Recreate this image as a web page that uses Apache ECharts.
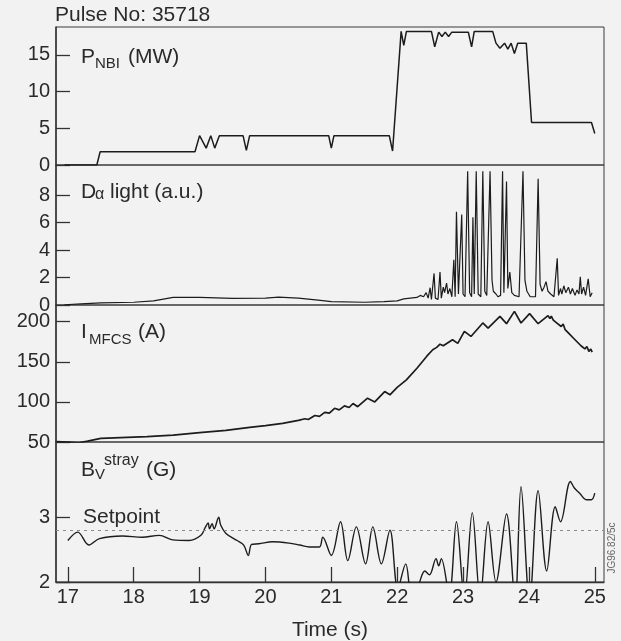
<!DOCTYPE html>
<html><head><meta charset="utf-8">
<script src="https://cdn.jsdelivr.net/npm/echarts@6/dist/echarts.min.js"></script>
<style>html,body{margin:0;padding:0;background:#f2f2f2;}#c{width:621px;height:641px;}</style>
</head><body><div id="c"></div>
<script>
const pulseLabel = 'Pulse No: 35718';
const timeTicks = [17, 18, 19, 20, 21, 22, 23, 24, 25];
const pnbiTicks = [0, 5, 10, 15];
const dalphaTicks = [0, 2, 4, 6, 8];
const imfcsTicks = [50, 100, 150, 200];
const bvTicks = [2, 3];
const setpoint = 2.8;

// [time (s), P_NBI (MW)]
const pnbi = [[16.95,0],[17.44,0],[17.49,1.8],[18.93,1.8],[19.0,4.0],[19.1,2.3],[19.17,4.0],[19.23,2.3],[19.3,4.0],
  [19.66,4.0],[19.71,2.0],[19.76,4.0],[20.96,4.0],[21.0,2.3],[21.04,4.0],[21.88,4.0],[21.93,1.9],[22.06,18.2],
  [22.1,16.3],[22.14,18.2],[22.52,18.2],[22.57,16.1],[22.63,18.1],[22.68,17.5],[22.73,18.1],[22.78,17.5],[22.83,18.1],
  [23.08,18.1],[23.13,16.1],[23.17,18.2],[23.45,18.2],[23.5,16.6],[23.56,15.9],[23.63,16.6],[23.68,15.8],[23.73,16.6],
  [23.78,15.2],[23.83,16.6],[23.96,16.6],[24.04,5.8],[24.95,5.8],[25.0,4.3]];

// [time (s), D-alpha light (a.u.)]
const dalpha = [[16.95,0.02],[17.2,0.08],[17.5,0.15],[18.0,0.2],[18.3,0.3],[18.6,0.55],[19.0,0.55],[19.5,0.48],
  [20.0,0.5],[20.2,0.58],[20.5,0.5],[20.8,0.35],[21.0,0.25],[21.5,0.2],[21.8,0.25],[22.0,0.3],[22.1,0.45],[22.2,0.5],
  [22.3,0.55],[22.35,0.7],[22.4,0.6],[22.44,0.9],[22.47,0.5],[22.5,1.26],[22.52,0.4],[22.55,0.5],[22.56,2.3],[22.58,0.5],
  [22.62,0.4],[22.65,2.4],[22.67,0.5],[22.7,1.3],[22.72,0.9],[22.75,1.6],[22.77,0.8],[22.8,1.2],[22.83,0.6],[22.86,3.3],
  [22.88,0.6],[22.9,6.8],[22.93,0.8],[22.98,6.6],[23.0,0.8],[23.03,0.6],[23.07,9.75],[23.1,0.9],[23.13,0.6],[23.15,6.4],
  [23.17,0.8],[23.2,9.75],[23.23,0.8],[23.27,0.6],[23.3,9.75],[23.33,1.0],[23.36,0.7],[23.41,9.75],[23.44,1.8],[23.46,1.0],
  [23.5,0.8],[23.53,0.6],[23.57,0.7],[23.6,9.75],[23.62,0.9],[23.66,9.0],[23.68,1.2],[23.71,2.4],[23.74,0.9],[23.78,0.7],
  [23.85,0.6],[23.91,9.75],[23.94,1.8],[23.97,1.0],[24.02,0.6],[24.1,0.6],[24.14,9.2],[24.17,1.5],[24.2,1.0],[24.23,1.3],
  [24.26,1.7],[24.29,1.0],[24.33,0.8],[24.38,0.6],[24.43,3.4],[24.45,0.7],[24.48,1.2],[24.5,0.8],[24.53,1.4],[24.56,0.9],
  [24.6,1.3],[24.63,0.8],[24.66,1.2],[24.7,0.7],[24.73,1.1],[24.76,0.8],[24.78,2.06],[24.8,0.8],[24.83,1.3],[24.86,0.7],
  [24.9,1.9],[24.93,0.6],[24.96,0.9]];

// [time (s), I_MFCS (A)]
const imfcs = [[16.83,50.4],[17.0,50],[17.15,48.8],[17.3,51],[17.5,54.6],[17.8,55.5],[18.2,56.6],[18.6,58.5],[19.0,61.6],
  [19.4,64.5],[19.76,68.3],[20.0,70.5],[20.26,73.3],[20.5,77],[20.6,79],[20.65,78],[20.75,83],[20.82,82],[20.9,87],
  [20.97,86],[21.05,92],[21.12,90],[21.2,95],[21.27,93],[21.33,98],[21.4,94],[21.55,104.6],[21.66,100],[21.81,112.9],
  [21.89,108.8],[22.0,118],[22.14,127.5],[22.3,142],[22.45,157],[22.54,165],[22.6,168],[22.65,172],[22.7,170],
  [22.84,177.5],[22.92,173],[23.02,187.9],[23.12,181.6],[23.3,198.4],[23.38,192],[23.56,206.6],[23.66,197.5],
  [23.78,212.9],[23.88,198.4],[24.01,210],[24.14,197.5],[24.29,207.5],[24.32,204],[24.34,207],[24.37,202],[24.4,204],
  [24.43,198],[24.46,200],[24.49,194],[24.52,197],[24.55,190],[24.58,192],[24.61,185],[24.64,187],[24.67,180],
  [24.7,182],[24.73,175],[24.76,177],[24.79,170],[24.82,172],[24.85,166],[24.88,169],[24.91,163],[24.94,166],[24.96,162]];

// [time (s), B_V stray (G)]
const bvstray = [[17.0,2.64],[17.15,2.77],[17.32,2.57],[17.48,2.67],[17.83,2.71],[18.13,2.69],[18.39,2.72],[18.59,2.65],
  [18.84,2.64],[19.02,2.72],[19.09,2.85],[19.13,2.91],[19.15,2.82],[19.19,2.9],[19.22,2.82],[19.29,3.0],[19.32,2.88],
  [19.4,2.75],[19.57,2.64],[19.67,2.57],[19.74,2.41],[19.79,2.58],[19.9,2.59],[20.11,2.62],[20.36,2.6],[20.52,2.57],
  [20.67,2.54],[20.82,2.54],[20.87,2.69],[21.0,2.41],[21.14,2.93],[21.25,2.33],[21.38,2.85],[21.52,2.28],[21.63,2.85],
  [21.76,2.28],[21.89,2.8],[22.01,1.9],[22.13,2.28],[22.22,1.8],[22.32,1.95],[22.42,2.17],[22.49,2.11],[22.59,2.36],
  [22.63,2.25],[22.67,2.36],[22.79,1.8],[22.9,2.93],[23.02,1.75],[23.14,3.07],[23.26,1.75],[23.38,2.93],[23.5,2.0],
  [23.66,3.05],[23.79,1.7],[23.88,3.47],[24.01,1.7],[24.14,3.41],[24.27,2.17],[24.4,3.16],[24.48,2.93],[24.63,3.55],
  [24.69,3.45],[24.77,3.37],[24.87,3.27],[24.95,3.27],[25.0,3.37]];

const FONT = '"Liberation Sans", Arial, Helvetica, sans-serif';
const INK = '#2a2a2a';
const gridBoxes = [
  {top: 27, height: 138}, {top: 165, height: 140}, {top: 305, height: 137}, {top: 442, height: 140}
];
const yRanges = [[0, 18.8], [0, 10.2], [50, 220.8], [2, 4.16]];
const yTicks = [pnbiTicks, dalphaTicks, imfcsTicks, bvTicks];
const seriesData = [pnbi, dalpha, imfcs, bvstray];
const lineWidths = [1.5, 1.2, 1.7, 1.4];

const chart = echarts.init(document.getElementById('c'), null, {renderer: 'canvas'});
const option = {
  animation: false,
  backgroundColor: '#f2f2f2',
  grid: gridBoxes.map(g => ({left: 56, right: 17, top: g.top, height: g.height, show: true,
    borderColor: '#3a3a3a', borderWidth: 1, backgroundColor: 'transparent', containLabel: false, outerBoundsMode: 'none'})),
  xAxis: gridBoxes.map((g, i) => {
    const last = i === 3;
    return {
      type: 'value', gridIndex: i, min: 16.82, max: 25.14,
      splitLine: {show: false},
      axisLine: {show: last, onZero: false, lineStyle: {color: '#333', width: 1.3}},
      axisTick: {show: last, inside: true, length: 15, customValues: timeTicks, lineStyle: {color: '#333', width: 1.3}},
      axisLabel: {show: last, customValues: timeTicks, fontSize: 20, fontFamily: FONT, color: INK, margin: 5},
      name: last ? 'Time (s)' : '', nameLocation: 'middle', nameGap: 38,
      nameTextStyle: {fontSize: 21, fontFamily: FONT, color: INK}
    };
  }),
  yAxis: gridBoxes.map((g, i) => ({
    type: 'value', gridIndex: i, min: yRanges[i][0], max: yRanges[i][1],
    splitLine: {show: false},
    axisLine: {show: true, onZero: false, lineStyle: {color: '#333', width: 1.5}},
    axisTick: {show: true, inside: true, length: 14, customValues: yTicks[i], lineStyle: {color: '#333', width: 1.3}},
    axisLabel: {customValues: yTicks[i], fontSize: 20, fontFamily: FONT, color: INK, margin: 6}
  })),
  series: seriesData.map((d, i) => ({
    type: 'line', xAxisIndex: i, yAxisIndex: i, data: d, showSymbol: false, symbol: 'none',
    clip: true, smooth: i === 3 ? 0.35 : false,
    lineStyle: {color: '#1c1c1c', width: lineWidths[i]},
    markLine: i === 3 ? {silent: true, symbol: 'none', label: {show: false},
      lineStyle: {type: [3, 4], color: '#8a8a8a', width: 1.2}, data: [{yAxis: setpoint}]} : undefined
  })),
  graphic: [
    {type: 'text', x: 55, y: 15, style: {text: pulseLabel, font: '21px ' + FONT, fill: INK, verticalAlign: 'middle'}},
    {type: 'text', x: 81, y: 57, style: {text: 'P', font: '21px ' + FONT, fill: INK, verticalAlign: 'middle'}},
    {type: 'text', x: 95, y: 64, style: {text: 'NBI', font: '15px ' + FONT, fill: INK, verticalAlign: 'middle'}},
    {type: 'text', x: 128, y: 57, style: {text: '(MW)', font: '21px ' + FONT, fill: INK, verticalAlign: 'middle'}},
    {type: 'text', x: 81, y: 192, style: {text: 'D', font: '21px ' + FONT, fill: INK, verticalAlign: 'middle'}},
    {type: 'text', x: 95, y: 195, style: {text: 'α', font: '16px ' + FONT, fill: INK, verticalAlign: 'middle'}},
    {type: 'text', x: 110, y: 192, style: {text: 'light (a.u.)', font: '21px ' + FONT, fill: INK, verticalAlign: 'middle'}},
    {type: 'text', x: 81, y: 332, style: {text: 'I', font: '21px ' + FONT, fill: INK, verticalAlign: 'middle'}},
    {type: 'text', x: 89, y: 340, style: {text: 'MFCS', font: '15px ' + FONT, fill: INK, verticalAlign: 'middle'}},
    {type: 'text', x: 138, y: 332, style: {text: '(A)', font: '21px ' + FONT, fill: INK, verticalAlign: 'middle'}},
    {type: 'text', x: 81, y: 470, style: {text: 'B', font: '21px ' + FONT, fill: INK, verticalAlign: 'middle'}},
    {type: 'text', x: 95, y: 475, style: {text: 'V', font: '15px ' + FONT, fill: INK, verticalAlign: 'middle'}},
    {type: 'text', x: 104, y: 461, style: {text: 'stray', font: '16px ' + FONT, fill: INK, verticalAlign: 'middle'}},
    {type: 'text', x: 146, y: 470, style: {text: '(G)', font: '21px ' + FONT, fill: INK, verticalAlign: 'middle'}},
    {type: 'text', x: 83, y: 517, style: {text: 'Setpoint', font: '21px ' + FONT, fill: INK, verticalAlign: 'middle'}},
    {type: 'text', x: 612, y: 548, rotation: Math.PI / 2,
      style: {text: 'JG96.82/5c', font: '10px ' + FONT, fill: '#666', align: 'center', verticalAlign: 'middle'}}
  ]
};
chart.setOption(option);
</script>
</body></html>
